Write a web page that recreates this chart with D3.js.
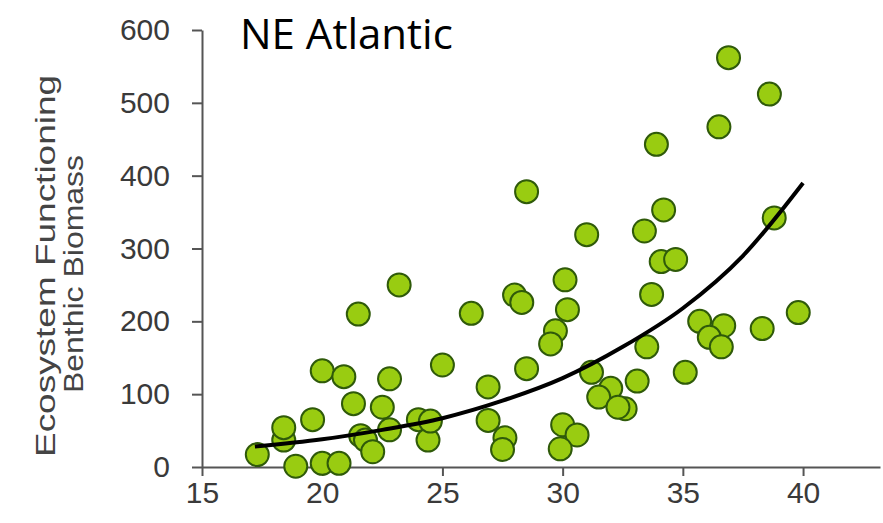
<!DOCTYPE html>
<html><head><meta charset="utf-8">
<script src="https://cdn.jsdelivr.net/npm/d3@7"></script>
<style>body{margin:0;background:#fff}</style>
</head><body>
<svg id="chart" width="883" height="523"></svg>
<script>
const xs = [17.3,18.4,18.4,18.9,19.6,20.0,20.0,20.7,20.9,21.3,21.5,21.6,21.8,22.1,22.8,22.5,22.8,23.2,24.0,24.4,24.5,25.0,26.2,26.9,26.9,27.6,27.5,28.0,28.3,28.5,28.5,31.0,33.4,34.2,33.9,36.5,36.9,38.6,38.8,34.1,34.7,33.7,30.1,30.2,29.7,29.5,33.5,35.7,36.7,36.1,36.6,38.3,39.8,35.1,31.2,33.1,32.0,31.5,32.6,32.3,30.0,30.6,29.9];
const ys = [17,37,54,1,65,132,5,5,124,87,210,43,37,21,121,82,51,250,65,37,63,140,211,110,64,40,24,236,226,135,378,319,324,353,443,467,562,512,342,282,285,237,257,216,187,169,165,200,194,178,165,190,212,130,130,118,108,96,80,82,58,44,25];
const trendX = [17.2,20,22.5,25,27.5,30,32.5,35,37.5,40];
const trendY = [28,38,51,67,91,122,165,218,290,390];
const xTicks = [15,20,25,30,35,40];
const yTicks = [0,100,200,300,400,500,600];

const svg = d3.select('#chart');
const x = d3.scaleLinear().domain([15,43.2]).range([202,880]);
const y = d3.scaleLinear().domain([0,600]).range([467,30]);
const grey = '#555';
const tickFont = '30px "Liberation Sans", Arial, sans-serif';

const gx = svg.append('g').attr('transform','translate(0,467)')
  .call(d3.axisBottom(x).tickValues(xTicks).tickSize(9).tickSizeOuter(0).tickPadding(6));
const gy = svg.append('g').attr('transform','translate(202,0)')
  .call(d3.axisLeft(y).tickValues(yTicks).tickSize(10).tickSizeOuter(0).tickPadding(22));
[gx,gy].forEach(function(g) {
  g.selectAll('path,line').attr('stroke',grey).attr('stroke-width',2);
  g.selectAll('text').attr('fill','#3a3a3a').style('font',tickFont);
});

svg.append('g').selectAll('circle')
  .data(xs.map(function(d,i) {return [d, ys[i]];}))
  .enter()
    .append('circle')
    .attr('cx', function(d) {return x(d[0]);})
    .attr('cy', function(d) {return y(d[1]);})
    .attr('r', 11.5)
    .attr('fill','#99cc11')
    .attr('stroke','#2f5a0a')
    .attr('stroke-width',2);

const line = d3.line().x(function(d) {return x(d[0]);}).y(function(d) {return y(d[1]);}).curve(d3.curveMonotoneX);
svg.append('path')
  .datum(trendX.map(function(d,i) {return [d, trendY[i]];}))
  .attr('d', line).attr('fill','none').attr('stroke','#000').attr('stroke-width',4);

//axis title, two lines
[['Ecosystem Functioning',55,266,382],['Benthic Biomass',83,274,238]].forEach(function(t) {
  svg.append('text').attr('transform','translate(' + t[1] + ',' + t[2] + ') rotate(-90)')
    .attr('text-anchor','middle').attr('fill','#444')
    .attr('textLength',t[3]).attr('lengthAdjust','spacingAndGlyphs')
    .style('font','27px "Liberation Sans", Arial, sans-serif')
    .text(t[0]);
});

svg.append('text').attr('x',240).attr('y',49).attr('fill','#000')
  .style('font','42px "Open Sans", Calibri, sans-serif').text('NE Atlantic');
</script>
</body></html>
